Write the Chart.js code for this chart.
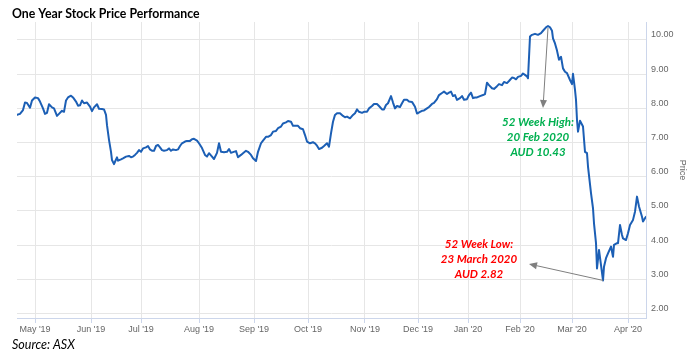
<!DOCTYPE html>
<html>
<head>
<meta charset="utf-8">
<script src="https://cdn.jsdelivr.net/npm/chart.js@4/dist/chart.umd.min.js"></script>
<style>
  body { margin: 0; background: #fff; }
  canvas { display: block; }
</style>
</head>
<body>
<canvas id="chart" width="696" height="358"></canvas>
<script>
/************************ data ************************************************/
// x position in trading days from the first point, close price in AUD
const tradingDay = [
  0, 1.2, 2.4, 3.2, 4, 5.2, 6, 7.2, 8.4, 9.2, 10.4, 11.2, 12, 12.8, 14, 14.8, 16, 16.8, 18, 18.8,
  19.6, 20.4, 21.6, 22.4, 23.6, 24.4, 25.2, 26, 26.8, 28, 29.2, 30, 30.8, 32, 32.8, 34, 34.8, 35.6, 36, 36.8,
  37.6, 38, 38.8, 39.2, 40, 40.4, 41.6, 42.4, 43.6, 44.8, 45.6, 46.4, 47.2, 48, 48.8, 49.6, 50.4, 51.6, 52.4, 53.2,
  54, 54.8, 55.6, 56.4, 57.2, 58, 58.8, 60, 60.8, 61.6, 62.4, 63.6, 64.4, 65.2, 66, 67.2, 68, 69.2, 70, 70.8,
  72, 72.8, 74, 75.2, 76, 76.8, 78, 78.8, 80, 80.8, 81.6, 82.8, 84, 84.8, 85.6, 86.4, 87.6, 88.4, 89.6, 90.4,
  91.6, 92.4, 93.6, 94.4, 95.6, 96.4, 97.6, 98.4, 99.6, 100.4, 101.6, 102.4, 103.6, 104.4, 105.6, 106.4, 107.6, 108.4, 109.6, 110.4,
  111.2, 112.4, 113.2, 114.4, 115.2, 116, 117.2, 118.4, 119.2, 120, 120.8, 122, 122.8, 124, 124.8, 125.6, 126.4, 127.2, 128, 129.2,
  130.4, 131.2, 132, 133.2, 134.4, 135.2, 136, 136.8, 138, 138.8, 140, 140.8, 142, 142.8, 144, 144.8, 146, 146.8, 147.6, 148.4,
  149.6, 150.4, 151.2, 152, 153.2, 154, 154.8, 156, 156.8, 158, 159.2, 160, 160.8, 162, 162.8, 164, 164.8, 166, 166.8, 168,
  168.8, 170, 170.8, 172, 172.8, 173.6, 174.4, 175.2, 176, 177.2, 178, 178.8, 180, 180.8, 181.6, 182.4, 183.2, 184, 185.2, 186.4,
  187.2, 188, 188.8, 190, 190.8, 192, 192.8, 194, 194.8, 196, 196.8, 198, 198.8, 199.6, 200.4, 201.6, 202.4, 203.2, 204, 204.4,
  205.2, 206, 207.2, 208.4, 209.6, 210.4, 211.6, 212.4, 213.2, 214, 214.4, 215.2, 216, 216.8, 217.6, 218.4, 219.2, 220, 221.2, 222,
  222.4, 223.2, 223.6, 224, 224.4, 225.2, 226.4, 227.2, 228, 228.4, 229.6, 230.4, 230.8, 231.6, 232, 232.8, 233.6, 234.4, 234.8, 235.6,
  236.4, 237.6, 238.4, 238.8, 240, 240.4, 241.2, 242, 242.4, 243.6, 244.4, 245.2, 246.4, 247.2, 248, 248.8, 250, 250.4, 251.2, 251.6
];
const closePrice = [
  7.81, 7.84, 7.95, 8.17, 8.16, 8.02, 8.23, 8.32, 8.30, 8.20, 8.00, 7.84, 7.87, 8.12, 8.03, 8.00, 7.78, 7.84, 7.93, 7.90,
  8.23, 8.32, 8.37, 8.32, 8.20, 8.08, 8.09, 8.23, 8.15, 8.17, 8.05, 7.92, 8.03, 8.12, 7.99, 7.98, 7.97, 7.81, 7.51, 7.08,
  6.73, 6.49, 6.37, 6.44, 6.57, 6.47, 6.51, 6.54, 6.59, 6.61, 6.57, 6.59, 6.64, 6.70, 6.78, 6.73, 6.83, 6.86, 6.90, 6.80,
  6.76, 6.76, 6.90, 6.93, 6.86, 6.78, 6.76, 6.78, 6.83, 6.76, 6.80, 6.78, 6.80, 6.90, 6.98, 7.03, 7.05, 7.05, 7.10, 7.11,
  7.06, 6.98, 6.84, 6.64, 6.59, 6.69, 6.59, 6.52, 6.70, 6.98, 6.73, 6.72, 6.73, 6.81, 6.70, 6.72, 6.75, 6.57, 6.64, 6.69,
  6.76, 6.73, 6.64, 6.54, 6.46, 6.73, 6.98, 7.06, 7.17, 7.17, 7.22, 7.32, 7.34, 7.42, 7.47, 7.56, 7.59, 7.63, 7.61, 7.49,
  7.49, 7.49, 7.42, 7.39, 7.22, 7.03, 6.98, 7.01, 6.98, 6.91, 6.81, 6.85, 6.90, 6.98, 6.88, 7.27, 7.61, 7.81, 7.86, 7.86,
  7.78, 7.74, 7.76, 7.71, 7.81, 7.86, 7.97, 7.90, 7.87, 7.90, 7.90, 8.00, 8.07, 8.13, 8.13, 8.07, 7.97, 7.97, 8.10, 8.15,
  8.36, 8.17, 8.00, 8.07, 8.04, 8.15, 8.25, 8.25, 8.20, 8.19, 8.05, 7.85, 7.88, 7.93, 7.94, 8.00, 8.04, 8.13, 8.16, 8.27,
  8.39, 8.45, 8.49, 8.42, 8.46, 8.49, 8.36, 8.39, 8.25, 8.30, 8.36, 8.25, 8.27, 8.39, 8.46, 8.30, 8.32, 8.32, 8.36, 8.39,
  8.42, 8.75, 8.68, 8.59, 8.57, 8.65, 8.71, 8.68, 8.77, 8.74, 8.80, 8.90, 8.89, 8.85, 8.92, 8.95, 9.02, 8.98, 8.93, 8.88,
  10.10, 10.15, 10.18, 10.15, 10.20, 10.27, 10.37, 10.41, 10.37, 10.27, 10.05, 9.90, 9.69, 9.42, 9.51, 9.17, 9.07, 9.03, 8.83, 8.71,
  9.01, 8.54, 8.25, 7.66, 7.32, 7.64, 7.47, 6.73, 6.69, 6.30, 5.52, 5.08, 4.64, 4.06, 3.32, 3.86, 3.42, 2.97, 3.37, 3.62,
  3.76, 3.96, 3.66, 4.01, 4.06, 4.06, 4.59, 4.30, 4.20, 4.15, 4.35, 4.59, 4.74, 4.98, 5.42, 5.13, 4.83, 4.69, 4.79, 4.83
];

// month ticks on the x axis (trading-day position) and their labels
const monthTicks = [7.2, 29.6, 49.6, 72.8, 94.8, 116.4, 139.2, 160.4, 180.4, 201.2, 222, 244.4];
const monthLabels = ["May '19", "Jun '19", "Jul '19", "Aug '19", "Sep '19", "Oct '19",
                     "Nov '19", "Dec '19", "Jan '20", "Feb '20", "Mar '20", "Apr '20"];
const priceTicks = [2, 3, 4, 5, 6, 7, 8, 9, 10];

const highNote = ["52 Week High:", "20 Feb 2020", "AUD 10.43"];
const lowNote = ["52 Week Low:", "23 March 2020", "AUD 2.82"];

/************************ texts and arrows plugin *****************************/
function drawArrow(ctx, x1, y1, x2, y2) {
  const ang = Math.atan2(y2 - y1, x2 - x1);
  const len = 8, half = 3.5;
  const bx = x2 - Math.cos(ang) * len, by = y2 - Math.sin(ang) * len;
  ctx.strokeStyle = "#7f7f7f";
  ctx.fillStyle = "#7f7f7f";
  ctx.lineWidth = 1;
  ctx.beginPath();
  ctx.moveTo(x1, y1);
  ctx.lineTo(bx, by);
  ctx.stroke();
  ctx.beginPath();
  ctx.moveTo(x2, y2);
  ctx.lineTo(bx + Math.sin(ang) * half, by - Math.cos(ang) * half);
  ctx.lineTo(bx - Math.sin(ang) * half, by + Math.cos(ang) * half);
  ctx.closePath();
  ctx.fill();
}

const notesPlugin = {
  id: "notes",
  afterDraw(chart) {
    const { ctx, scales: { x, y } } = chart;
    ctx.save();

    // title and source
    ctx.fillStyle = "#000";
    ctx.textAlign = "left";
    ctx.textBaseline = "middle";
    ctx.font = "bold 12.3px Lato, sans-serif";
    ctx.fillText("One Year Stock Price Performance", 12, 14);
    ctx.font = "italic 12.5px Lato, sans-serif";
    ctx.fillText("Source: ASX", 12, 345);

    // arrows from the high / low points
    const hi = closePrice.indexOf(Math.max(...closePrice));
    const lo = closePrice.indexOf(Math.min(...closePrice));
    drawArrow(ctx, x.getPixelForValue(tradingDay[hi]), y.getPixelForValue(closePrice[hi]) + 2,
              x.getPixelForValue(210.4), y.getPixelForValue(8.01));
    drawArrow(ctx, x.getPixelForValue(tradingDay[lo]), y.getPixelForValue(closePrice[lo]),
              x.getPixelForValue(204.8), y.getPixelForValue(3.45));

    // notes
    ctx.textAlign = "center";
    ctx.font = "italic bold 11.5px Lato, sans-serif";
    ctx.fillStyle = "#00b050";
    highNote.forEach((t, i) => {
      ctx.fillText(t, x.getPixelForValue(208.4), y.getPixelForValue(7.60) + i * 15);
    });
    ctx.fillStyle = "#ff0000";
    lowNote.forEach((t, i) => {
      ctx.fillText(t, x.getPixelForValue(184.8), y.getPixelForValue(4.04) + i * 15);
    });
    ctx.restore();
  }
};

/************************* CHART INITIALIZATION ******************************/
const axisFont = { family: "'Liberation Sans', Arial, sans-serif", size: 9 };

const ctx = document.getElementById("chart").getContext("2d");
const myChart = new Chart(ctx, {
  type: "line",
  data: {
    datasets: [{
      data: tradingDay.map((d, i) => ({ x: d, y: closePrice[i] })),
      borderColor: "#1c5fb5",
      borderWidth: 2,
      borderJoinStyle: "round",
      borderCapStyle: "round",
      pointRadius: 0,
      tension: 0,
      fill: false
    }]
  },
  options: {
    responsive: false,
    animation: false,
    layout: { padding: { left: 17, top: 22, right: 0, bottom: 0 } },
    plugins: { legend: { display: false }, tooltip: { enabled: false } },
    scales: {
      x: {
        type: "linear",
        min: 0,
        max: 251.6,
        afterBuildTicks: (axis) => { axis.ticks = monthTicks.map(v => ({ value: v })); },
        afterFit: (axis) => { axis.height = 40; },
        ticks: {
          autoSkip: false,
          maxRotation: 0,
          padding: 1,
          color: "#666",
          font: axisFont,
          callback: (v, i) => monthLabels[i]
        },
        grid: { color: "#e6e6e6", tickColor: "#ccd6eb", tickLength: 5 },
        border: { color: "#ccd6eb", width: 1 }
      },
      y: {
        position: "right",
        min: 1.871,
        max: 10.526,
        afterBuildTicks: (axis) => { axis.ticks = priceTicks.map(v => ({ value: v })); },
        afterFit: (axis) => { axis.width = 50; },
        ticks: {
          padding: 5,
          labelOffset: -5,
          color: "#666",
          font: axisFont,
          callback: (v) => v.toFixed(2)
        },
        grid: { color: "#e6e6e6", drawTicks: false },
        border: { color: "#ccd6eb", width: 1 },
        title: { display: true, text: "Price", color: "#666", font: axisFont, padding: { top: 8, bottom: 0 } }
      }
    }
  },
  plugins: [notesPlugin]
});
</script>
</body>
</html>
